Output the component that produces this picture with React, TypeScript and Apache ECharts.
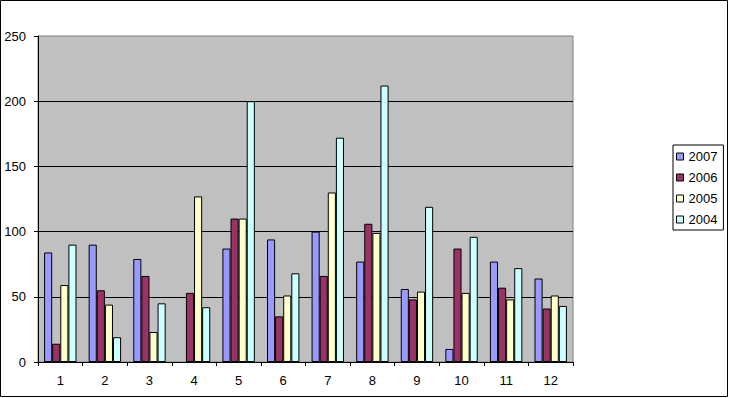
import React, { useEffect, useRef } from "react";
import * as echarts from "echarts";

const categories = ["1", "2", "3", "4", "5", "6", "7", "8", "9", "10", "11", "12"];
const seriesNames = ["2007", "2006", "2005", "2004"];
const values2007 = [84, 90, 79, null, 87, 94, 100, 77, 56, 10, 77, 64];
const values2006 = [14, 55, 66, 53, 110, 35, 66, 106, 48, 87, 57, 41];
const values2005 = [59, 44, 23, 127, 110, 51, 130, 99, 54, 53, 48, 51];
const values2004 = [90, 19, 45, 42, 200, 68, 172, 212, 119, 96, 72, 43];
const colors = ["#9999FF", "#993366", "#FFFFCC", "#CCFFFF"];

const FONT = "'Liberation Sans', Arial, sans-serif";

export default function App() {
  const ref = useRef<HTMLDivElement>(null);

  useEffect(() => {
    if (!ref.current) return;
    const chart = echarts.init(ref.current, null, { renderer: "svg" });
    const allValues = [values2007, values2006, values2005, values2004];
    chart.setOption({
      animation: false,
      backgroundColor: "#FFFFFF",
      textStyle: { fontFamily: FONT },
      grid: {
        left: 38,
        right: 156,
        top: 36,
        bottom: 36,
        show: true,
        backgroundColor: "#C0C0C0",
        borderColor: "#808080",
        borderWidth: 1,
      },
      legend: {
        orient: "vertical",
        left: 673,
        top: 145,
        padding: [5, 6, 4, 3],
        itemGap: 8,
        itemWidth: 7,
        itemHeight: 7,
        icon: "rect",
        borderColor: "#000",
        borderWidth: 1,
        backgroundColor: "#FFFFFF",
        itemStyle: { borderColor: "#000", borderWidth: 1 },
        textStyle: { fontFamily: FONT, fontSize: 13, color: "#000", lineHeight: 13 },
        data: seriesNames,
      },
      xAxis: {
        type: "category",
        data: categories,
        axisLine: { show: true, lineStyle: { color: "#000", width: 1 } },
        axisTick: { show: true, length: 4, lineStyle: { color: "#000" } },
        axisLabel: { color: "#000", fontSize: 13, fontFamily: FONT, margin: 12 },
        splitLine: { show: false },
      },
      yAxis: {
        type: "value",
        min: 0,
        max: 250,
        interval: 50,
        axisLine: { show: true, lineStyle: { color: "#000", width: 1 } },
        axisTick: { show: true, length: 4, lineStyle: { color: "#000" } },
        axisLabel: { color: "#000", fontSize: 13, fontFamily: FONT, margin: 12 },
        splitLine: { show: true, showMaxLine: false, lineStyle: { color: "#000", width: 1 } },
      },
      series: seriesNames.map((name, i) => ({
        name,
        type: "bar",
        data: allValues[i],
        barGap: "0%",
        barCategoryGap: "27.3%",
        itemStyle: { color: colors[i], borderColor: "#000", borderWidth: 1 },
      })),
      graphic: [
        {
          type: "rect",
          shape: { x: 0.5, y: 0.5, width: 727, height: 396 },
          style: { fill: "none", stroke: "#000", lineWidth: 1 },
          silent: true,
          z: 100,
        },
      ],
    });
    return () => chart.dispose();
  }, []);

  return (
    <div
      ref={ref}
      style={{ position: "absolute", left: 0, top: 0, width: 729, height: 398 }}
    />
  );
}
